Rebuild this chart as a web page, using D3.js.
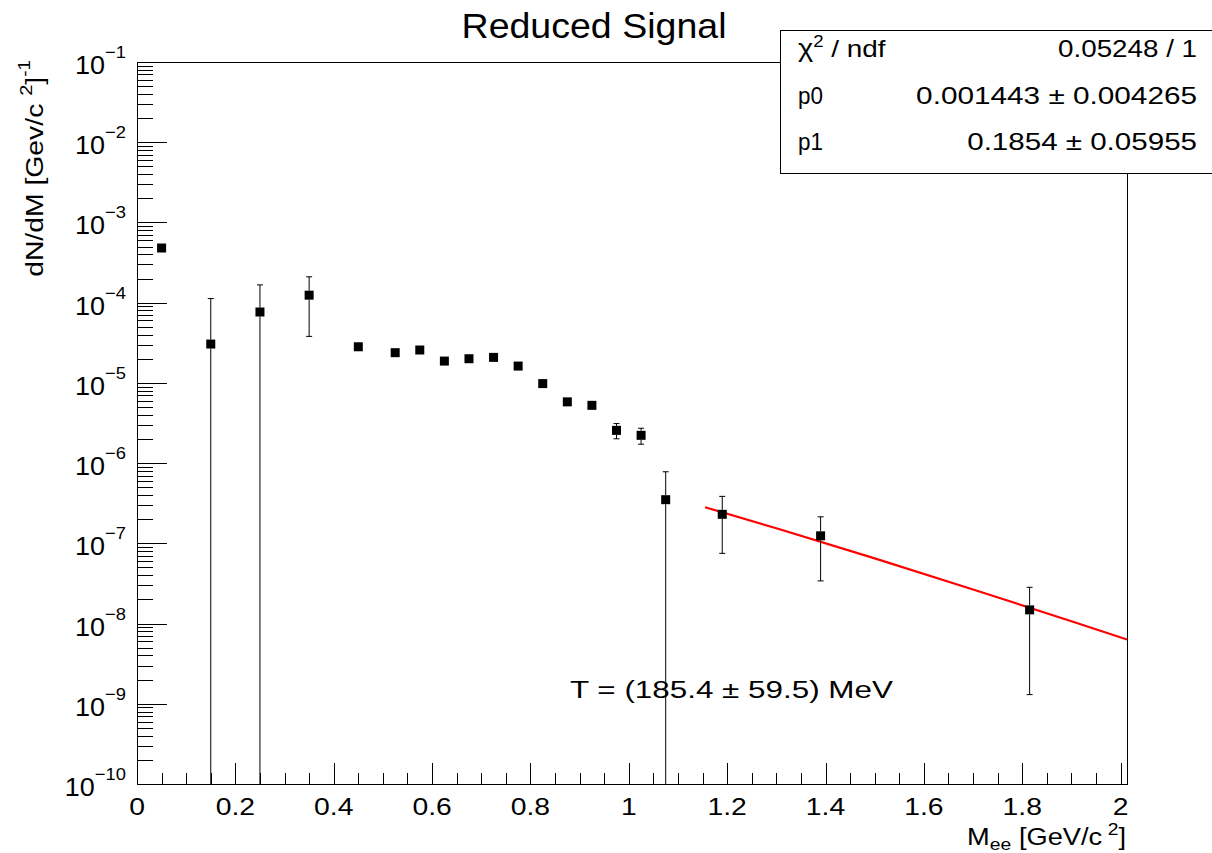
<!DOCTYPE html>
<html>
<head>
<meta charset="utf-8">
<script src="https://cdn.jsdelivr.net/npm/d3@7"></script>
<style>
  body { margin: 0; background: #fff; }
  svg { display: block; font-family: "Liberation Sans", Arial, Helvetica, sans-serif; }
</style>
</head>
<body>
<script>
// Reduced signal: dN/dM vs Mee, with exponential fit above 1.15 GeV/c^2
const massX = [0.05, 0.15, 0.25, 0.35, 0.45, 0.525, 0.575, 0.625, 0.675, 0.725,
               0.775, 0.825, 0.875, 0.925, 0.975, 1.025, 1.075, 1.19, 1.39, 1.815];
const signal = [4.8e-4, 3.05e-5, 7.65e-5, 1.24e-4, 2.82e-5, 2.38e-5, 2.57e-5, 1.87e-5, 2.0e-5, 2.08e-5,
                1.62e-5, 9.8e-6, 5.8e-6, 5.25e-6, 2.56e-6, 2.22e-6, 3.5e-7, 2.3e-7, 1.24e-7, 1.48e-8];
const signalErr = [2e-5, 8.2e-5, 9.0e-5, 8.6e-5, 1.5e-6, 1.2e-6, 1.3e-6, 1e-6, 1e-6, 1e-6,
                   8e-7, 5e-7, 3e-7, 3e-7, 5.5e-7, 5e-7, 4.3e-7, 1.55e-7, 9e-8, 1.35e-8];

// fit curve
const fitX = [1.155, 1.3, 1.5, 1.7, 1.9, 2.013];
const fitY = [2.82e-7, 1.54e-7, 6.5e-8, 2.66e-8, 1.07e-8, 6.34e-9];

const xMajor = [0, 0.2, 0.4, 0.6, 0.8, 1, 1.2, 1.4, 1.6, 1.8, 2];
const xMinor = d3.range(0, 41).map(i => i * 0.05).filter(v => v <= 2.013);
const yExponents = [-10, -9, -8, -7, -6, -5, -4, -3, -2, -1];

const statsLabels = ["p0", "p1"];
const statsValues = ["0.001443 \u00b1 0.004265", "0.1854 \u00b1 0.05955"];
const statsWidths = [281, 230];

const width = 1212, height = 853;
const svg = d3.select("body").append("svg")
    .attr("width", width)
    .attr("height", height);

svg.append("rect").attr("width", width).attr("height", height).attr("fill", "#fff");

const x = d3.scaleLinear().domain([0, 2.013]).range([137, 1127]);
const y = d3.scaleLog().domain([1e-10, 1e-1]).range([784, 62]);

// text helper: parts = [{t, s, dy}], fit = target width (px) or a scale factor
function label(g, px, py, anchor, parts, fit) {
  const t = g.append("text")
      .attr("text-anchor", anchor)
      .attr("fill", "#000");
  let shift = 0;
  parts.forEach(p => {
    const d = (p.dy || 0) - shift;
    shift = p.dy || 0;
    t.append("tspan")
      .attr("font-size", p.s)
      .attr("dy", d)
      .text(p.t);
  });
  let sx = 1;
  if (fit > 3) sx = fit / t.node().getBBox().width;
  else if (fit) sx = fit;
  t.attr("transform", `translate(${px},${py}) scale(${sx},1)`);
  return t;
}

// frame
svg.append("rect")
    .attr("x", x(0)).attr("y", y(1e-1))
    .attr("width", x(2.013) - x(0)).attr("height", y(1e-10) - y(1e-1))
    .attr("fill", "none").attr("stroke", "#000").attr("stroke-width", 1)
    .attr("shape-rendering", "crispEdges");

// x axis ticks (pointing into the frame)
const xAxisG = svg.append("g").attr("transform", `translate(0,${y(1e-10)})`);
xAxisG.append("g")
    .call(d3.axisBottom(x).tickValues(xMinor).tickSize(-11).tickFormat(""))
    .call(g => g.select(".domain").remove());
xAxisG.append("g")
    .call(d3.axisBottom(x).tickValues(xMajor).tickSize(-21).tickFormat(""))
    .call(g => g.select(".domain").remove());
xAxisG.selectAll("line").attr("stroke", "#000").attr("shape-rendering", "crispEdges");

xMajor.forEach(v => {
  label(svg, x(v), 815, "middle", [{t: d3.format("")(v), s: 24}], 1.18);
});

// y axis ticks
const yMinor = [];
yExponents.slice(0, -1).forEach(e => {
  for (let k = 2; k <= 9; k++) yMinor.push(k * Math.pow(10, e));
});
const yAxisG = svg.append("g").attr("transform", `translate(${x(0)},0)`);
yAxisG.append("g")
    .call(d3.axisLeft(y).tickValues(yMinor).tickSize(-16).tickFormat(""))
    .call(g => g.select(".domain").remove());
yAxisG.append("g")
    .call(d3.axisLeft(y).tickValues(yExponents.map(e => Math.pow(10, e))).tickSize(-30).tickFormat(""))
    .call(g => g.select(".domain").remove());
yAxisG.selectAll("line").attr("stroke", "#000").attr("shape-rendering", "crispEdges");

yExponents.forEach(e => {
  label(svg, 126, y(Math.pow(10, e)) + 12, "end",
    [{t: "10", s: 25}, {t: "\u2212" + Math.abs(e), s: 17, dy: -16}], 1.08);
});

// axis titles
label(svg, 1126, 845, "end",
  [{t: "M", s: 24}, {t: "ee", s: 17, dy: 5}, {t: " [GeV/c\u2009", s: 24}, {t: "2", s: 17, dy: -10}, {t: "]", s: 24}], 159);

const yTitle = svg.append("g").attr("transform", "translate(43,60) rotate(-90)");
label(yTitle, 0, 0, "end",
  [{t: "dN/dM [Gev/c ", s: 24}, {t: "2", s: 17, dy: -11}, {t: "]", s: 24}, {t: "-1", s: 16, dy: -13}], 217);

// title
label(svg, 594, 38, "middle", [{t: "Reduced Signal", s: 36}], 265);

// annotation
label(svg, 570, 698, "start", [{t: "T = (185.4 \u00b1 59.5) MeV", s: 24}], 323);

// fit curve
const fitLine = d3.line()
    .x((d, i) => x(fitX[i]))
    .y(d => y(d))
    .curve(d3.curveMonotoneX);
svg.append("path")
    .attr("d", fitLine(fitY))
    .attr("fill", "none")
    .attr("stroke", "#ff0000")
    .attr("stroke-width", 2.2);

// error bars and markers
const half = 4.5, cap = 3;
const bars = svg.append("g").attr("stroke", "#000").attr("stroke-width", 1);
massX.forEach((m, i) => {
  const cx = x(m), cy = y(signal[i]);
  const hi = signal[i] + signalErr[i], lo = signal[i] - signalErr[i];
  const yHi = y(hi);
  if (yHi < cy - half) {
    bars.append("line").attr("x1", cx).attr("x2", cx).attr("y1", cy - half).attr("y2", yHi);
    bars.append("line").attr("x1", cx - cap).attr("x2", cx + cap).attr("y1", yHi).attr("y2", yHi);
  }
  const clipped = lo <= 1e-10;
  const yLo = clipped ? y(1e-10) : y(lo);
  if (yLo > cy + half) {
    bars.append("line").attr("x1", cx).attr("x2", cx).attr("y1", cy + half).attr("y2", yLo);
    if (!clipped)
      bars.append("line").attr("x1", cx - cap).attr("x2", cx + cap).attr("y1", yLo).attr("y2", yLo);
  }
});

svg.append("g").selectAll("rect")
  .data(signal)
  .join("rect")
    .attr("x", (d, i) => x(massX[i]) - half)
    .attr("y", d => y(d) - half)
    .attr("width", 2 * half)
    .attr("height", 2 * half)
    .attr("fill", "#000");

// stats box
const stats = svg.append("g");
stats.append("rect")
    .attr("x", 780.5).attr("y", 30.5)
    .attr("width", 440).attr("height", 143)
    .attr("fill", "#fff").attr("stroke", "#000").attr("stroke-width", 1);

label(stats, 798, 57, "start", [{t: "\u03c7", s: 25}, {t: "2", s: 16, dy: -10}, {t: " / ndf", s: 24}], 88);
label(stats, 1197, 57, "end", [{t: "0.05248 / 1", s: 24}], 139);
statsLabels.forEach((l, i) => {
  const by = 103.5 + i * 46.5;
  label(stats, 798, by, "start", [{t: l, s: 24}], 25);
  label(stats, 1197, by, "end", [{t: statsValues[i], s: 24}], statsWidths[i]);
});
</script>
</body>
</html>
